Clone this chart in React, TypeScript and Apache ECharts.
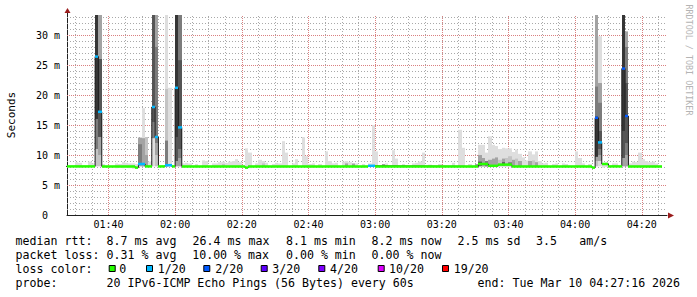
import React, { useEffect, useRef } from 'react';
import * as echarts from 'echarts';

// ---------- data ----------
const viewStart = '01:27:34';
const viewEnd = '04:27:34';
const dataEnd = '04:26';
const yMax = 100 / 3; // ms at top of plot

const xMajorTicks = ['01:40', '02:00', '02:20', '02:40', '03:00', '03:20', '03:40', '04:00', '04:20'];
const yTicks = [0, 5, 10, 15, 20, 25, 30];

// median rtt (ms), held from each start minute until the next one; loss = pings lost of 20
const medTimes = ['01:27', '01:36', '01:37', '01:38', '01:48', '01:49', '01:51', '01:53', '01:54', '01:55', '01:57', '01:59', '02:00', '02:01', '02:02', '02:21', '02:22', '02:58', '03:00', '03:31', '03:34', '03:37', '03:41', '04:05', '04:06', '04:07', '04:08', '04:10', '04:14', '04:15', '04:16'];
const medValues = [8.1, 26.4, 17.2, 8.1, 7.9, 8.5, 8.1, 18.0, 13.0, 8.1, 8.3, 8.1, 21.2, 14.6, 8.1, 7.9, 8.1, 8.2, 8.1, 8.5, 8.2, 8.4, 8.1, 7.9, 16.2, 12.1, 8.5, 8.1, 24.4, 16.5, 8.1];
const medLoss = [0, 1, 1, 0, 0, 1, 0, 1, 1, 0, 1, 0, 1, 1, 0, 0, 0, 1, 0, 0, 0, 0, 0, 0, 2, 1, 0, 0, 2, 2, 0];

// smoke bands: [minute, low ms, high ms, density level 1..6]
const smoke: [string, number, number, number][] = [
  ['01:30', 7.9, 8.8, 1], ['01:31', 7.9, 8.7, 1], ['01:34', 8.0, 8.9, 1], ['01:35', 8.0, 8.6, 1],
  ['01:36', 8.1, 33.4, 2], ['01:36', 11, 33.4, 4], ['01:36', 16, 33.4, 6],
  ['01:37', 8.1, 33.4, 2], ['01:37', 10, 33.4, 3], ['01:37', 13, 26, 5],
  ['01:38', 7.9, 8.5, 1], ['01:42', 7.8, 8.6, 1], ['01:43', 7.9, 8.5, 1], ['01:44', 7.8, 8.8, 1],
  ['01:45', 7.9, 8.7, 1], ['01:46', 7.8, 8.6, 1], ['01:47', 7.7, 8.6, 1], ['01:48', 7.7, 8.5, 1],
  ['01:49', 8.1, 12.9, 3], ['01:49', 8.6, 11.8, 4],
  ['01:50', 8.1, 17.8, 1], ['01:50', 8.1, 12.8, 3],
  ['01:51', 8.1, 13.0, 2], ['01:51', 8.1, 10.0, 3], ['01:52', 8.0, 8.9, 1],
  ['01:53', 8.1, 33.4, 1], ['01:53', 12.8, 33.4, 4], ['01:53', 15.5, 33.4, 5],
  ['01:54', 8.1, 33.4, 2], ['01:54', 10, 33.4, 3], ['01:54', 12, 28, 4],
  ['01:57', 8.1, 33.4, 1], ['01:57', 8.1, 21, 2], ['01:57', 8.1, 12.4, 4],
  ['01:58', 8.0, 21.2, 1],
  ['02:00', 8.1, 33.4, 3], ['02:00', 9, 33.4, 5], ['02:00', 13, 33.4, 6],
  ['02:01', 8.1, 33.4, 3], ['02:01', 9.5, 33.4, 4], ['02:01', 11, 25.8, 5],
  ['02:02', 7.9, 8.6, 1], ['02:03', 8.0, 8.7, 1], ['02:04', 8.0, 8.6, 1], ['02:06', 7.9, 8.5, 1],
  ['02:08', 8.0, 9.1, 1], ['02:09', 8.0, 9.0, 1], ['02:11', 8.0, 8.6, 1], ['02:12', 7.9, 8.6, 1],
  ['02:13', 8.0, 8.8, 1], ['02:14', 8.0, 8.9, 1], ['02:14', 8.1, 8.5, 2], ['02:15', 8.0, 8.7, 1],
  ['02:16', 8.0, 8.9, 1], ['02:17', 7.9, 9.0, 1], ['02:18', 8.0, 9.3, 1], ['02:19', 8.0, 8.8, 1],
  ['02:21', 7.7, 11.1, 1], ['02:22', 7.8, 10.4, 1], ['02:24', 8.0, 8.6, 1], ['02:25', 8.0, 9.2, 1],
  ['02:26', 8.0, 9.0, 1], ['02:26', 8.1, 8.6, 2], ['02:27', 8.0, 8.7, 1], ['02:29', 7.9, 8.5, 1],
  ['02:30', 8.0, 8.7, 1], ['02:31', 7.9, 8.6, 1], ['02:32', 7.9, 12.3, 1], ['02:33', 7.9, 10.4, 1],
  ['02:35', 8.0, 8.6, 1], ['02:36', 8.0, 9.3, 1], ['02:38', 8.0, 13.0, 1], ['02:39', 8.0, 9.8, 1],
  ['02:40', 7.9, 8.5, 1], ['02:41', 7.9, 8.6, 1], ['02:43', 7.9, 8.5, 1], ['02:45', 8.0, 10.6, 1],
  ['02:46', 8.0, 9.0, 1], ['02:47', 8.0, 8.6, 1], ['02:48', 8.0, 8.7, 1], ['02:50', 8.0, 8.9, 1],
  ['02:51', 8.0, 9.0, 1], ['02:51', 8.1, 8.6, 3], ['02:52', 8.0, 8.8, 1], ['02:53', 8.1, 8.6, 3],
  ['02:54', 7.9, 8.6, 1], ['02:56', 7.9, 8.5, 1], ['02:58', 8.0, 8.6, 1], ['02:59', 8.0, 15.0, 1],
  ['03:00', 8.0, 10.6, 1], ['03:02', 8.1, 8.5, 3], ['03:03', 8.0, 8.6, 1], ['03:05', 8.0, 10.8, 1],
  ['03:06', 8.0, 9.4, 1], ['03:08', 7.9, 8.5, 1], ['03:11', 8.0, 8.6, 1], ['03:12', 8.0, 8.7, 1],
  ['03:13', 8.0, 8.9, 1], ['03:14', 8.0, 10.4, 1], ['03:16', 7.9, 8.4, 1], ['03:19', 8.0, 8.5, 1],
  ['03:23', 8.0, 8.7, 1], ['03:25', 8.0, 14.2, 1], ['03:26', 8.0, 11.2, 1], ['03:28', 7.9, 8.5, 1],
  ['03:30', 8.1, 8.5, 3],
  ['03:31', 8.0, 11.7, 1], ['03:31', 8.1, 10.0, 3], ['03:31', 8.2, 8.9, 5],
  ['03:32', 8.0, 11.7, 1], ['03:32', 8.1, 9.5, 3],
  ['03:33', 8.0, 10.4, 1], ['03:33', 8.1, 9.0, 4],
  ['03:34', 8.0, 13.1, 1], ['03:34', 8.1, 9.2, 3],
  ['03:35', 8.0, 11.7, 1], ['03:35', 8.1, 9.4, 3],
  ['03:36', 8.0, 11.5, 1], ['03:36', 8.1, 9.6, 3],
  ['03:37', 8.0, 11.0, 1], ['03:37', 8.2, 9.2, 2],
  ['03:38', 8.0, 11.2, 1], ['03:38', 8.2, 9.4, 3], ['03:38', 8.3, 8.8, 5],
  ['03:39', 8.0, 11.1, 1], ['03:39', 8.2, 9.5, 2],
  ['03:40', 8.0, 11.1, 1], ['03:40', 8.2, 9.8, 2], ['03:40', 8.3, 8.8, 4],
  ['03:41', 8.0, 10.5, 1], ['03:41', 8.1, 9.2, 3],
  ['03:42', 8.0, 10.9, 1], ['03:42', 8.1, 9.4, 2],
  ['03:43', 8.0, 10.2, 1], ['03:43', 8.1, 9.0, 3],
  ['03:44', 8.0, 9.6, 1], ['03:45', 8.0, 9.1, 1],
  ['03:46', 8.0, 10.6, 1], ['03:46', 8.1, 9.0, 3],
  ['03:47', 8.0, 10.1, 1], ['03:47', 8.1, 9.1, 2],
  ['03:48', 8.0, 10.6, 1], ['03:48', 8.1, 8.8, 3],
  ['03:49', 8.0, 9.0, 1], ['03:50', 8.0, 8.6, 1], ['03:51', 8.0, 8.7, 1], ['03:53', 7.9, 8.5, 1],
  ['03:54', 8.0, 8.6, 1], ['03:56', 8.0, 8.6, 1], ['03:57', 8.0, 8.5, 1], ['04:00', 8.0, 10.6, 1],
  ['04:01', 8.0, 9.5, 1], ['04:02', 8.0, 8.6, 1], ['04:04', 7.8, 8.5, 1],
  ['04:06', 8.1, 33.4, 2], ['04:06', 9, 33.4, 3], ['04:06', 9.7, 21.4, 4], ['04:06', 9.7, 16.4, 6],
  ['04:07', 8.1, 29.8, 1], ['04:07', 9, 22, 3], ['04:07', 10, 18.7, 4], ['04:07', 11, 14, 5],
  ['04:08', 7.9, 8.7, 1], ['04:09', 8.0, 8.8, 1], ['04:11', 8.0, 8.6, 1], ['04:12', 8.0, 8.6, 1],
  ['04:14', 8.1, 33.4, 3], ['04:14', 9.5, 33.4, 5], ['04:14', 14, 33.4, 6],
  ['04:15', 8.1, 30.6, 3], ['04:15', 10, 28, 4], ['04:15', 12, 22, 5],
  ['04:16', 7.9, 8.6, 1], ['04:17', 8.0, 8.9, 1], ['04:18', 8.0, 8.8, 1], ['04:19', 8.0, 10.4, 1],
  ['04:20', 8.0, 9.3, 1], ['04:21', 8.0, 9.0, 1], ['04:22', 8.0, 8.8, 1], ['04:23', 7.9, 8.9, 1],
  ['04:24', 8.0, 8.6, 1],
];

const lossThresholds = [0, 1, 2, 3, 4, 10, 19];
const lossLabels = ['0', '1/20', '2/20', '3/20', '4/20', '10/20', '19/20'];

const rttTitle = 'median rtt:';
const rttStats = ['8.7 ms avg', '26.4 ms max', '8.1 ms min', '8.2 ms now', '2.5 ms sd', '3.5', 'am/s'];
const lossTitle = 'packet loss:';
const lossStats = ['0.31 % avg', '10.00 % max', '0.00 % min', '0.00 % now'];
const colorTitle = 'loss color:';
const probeTitle = 'probe:';
const probeText = '20 IPv6-ICMP Echo Pings (56 Bytes) every 60s';
const endText = 'end: Tue Mar 10 04:27:16 2026';
const yAxisName = 'Seconds';
const watermark = 'RRDTOOL / TOBI OETIKER';

// ---------- styles ----------
const lossColors = ['#26ff00', '#00b8ff', '#0059ff', '#5e00ff', '#7e00ff', '#dd00ff', '#ff0000'];
const smokeShades = ['#dedede', '#c4c4c4', '#a3a3a3', '#7c7c7c', '#555555', '#363636'];
const MONO = '"DejaVu Sans Mono", monospace';
const GRID = { left: 67, top: 15, width: 600, height: 200 };
const minorGrid = () => ({ color: '#a9a9a9', width: 1, type: [1, 2] });
const majorGrid = () => ({ color: '#d98080', width: 1, type: [1, 1] });

const toMin = (s: string) => {
  const [h, m, sec = '0'] = s.split(':');
  return Number(h) * 60 + Number(m) + Number(sec) / 60;
};
const pad = (n: number) => (n < 10 ? '0' : '') + n;
const fmtMin = (v: number) => {
  const h = Math.floor(v / 60 + 1e-9);
  const m = Math.round(v - h * 60);
  return pad(h) + ':' + pad(m);
};
const lossColor = (loss: number) => {
  let c = lossColors[0];
  lossThresholds.forEach((t, i) => { if (loss >= t) c = lossColors[i]; });
  return c;
};

function buildOption() {
  const xMin = toMin(viewStart);
  const xMax = toMin(viewEnd);

  // grid lines: every 5 minutes / every 1 ms; majors at the labelled ticks
  const majorX = xMajorTicks.map(toMin);
  const gridMarks: any[] = [];
  for (let t = Math.ceil(xMin / 5) * 5; t < xMax; t += 5) {
    const major = majorX.some((m) => Math.abs(m - t) < 1e-6);
    gridMarks.push([
      { coord: [t, 0], lineStyle: major ? majorGrid() : minorGrid() },
      { coord: [t, yMax] },
    ]);
  }
  for (let v = 1; v < yMax; v += 1) {
    const major = yTicks.indexOf(v) >= 0;
    gridMarks.push([
      { coord: [xMin, v], lineStyle: major ? majorGrid() : minorGrid() },
      { coord: [xMax, v] },
    ]);
  }

  const smokeData = smoke.map(([t, lo, hi, lvl]) => [toMin(t), lo, hi, lvl]);
  const n = medTimes.length;
  const medSegs = medTimes.map((t, i) => [
    toMin(t),
    i + 1 < n ? toMin(medTimes[i + 1]) : toMin(dataEnd),
    medValues[i],
    medLoss[i],
  ]);
  const medStep = medTimes.map((t, i) => [toMin(t), medValues[i]]);
  medStep.push([toMin(dataEnd), medValues[n - 1]]);

  const clip = (params: any, r: any) => echarts.graphic.clipRectByRect(r, params.coordSys);

  // legend layout
  const textEl = (text: string, x: number, y: number, extra: any = {}) => ({
    type: 'text', x, y, silent: true,
    style: { text, fill: '#000', fontFamily: MONO, fontSize: 11.6, verticalAlign: 'middle', align: 'left', ...extra },
  });
  const rttX = [106.6, 192.6, 286.0, 371.6, 457.6, 536.0, 579.3];
  const lossX = [106.6, 192.2, 286.0, 371.6];
  const sqX = [108.7, 146, 203.3, 260.7, 318.3, 377.7, 442];
  const sqLabelX = [119.2, 157.7, 215.2, 272.3, 330, 389, 453.7];
  const L1 = 241, L2 = 255, L3 = 269, L4 = 283.3;

  const graphic: any[] = [
    textEl(rttTitle, 15.6, L1),
    ...rttStats.map((s, i) => textEl(s, rttX[i], L1)),
    textEl(lossTitle, 15.6, L2),
    ...lossStats.map((s, i) => textEl(s, lossX[i], L2)),
    textEl(colorTitle, 15.6, L3),
    ...lossLabels.map((s, i) => textEl(s, sqLabelX[i], L3)),
    ...lossColors.map((c, i) => ({
      type: 'rect', silent: true,
      shape: { x: sqX[i] + 0.5, y: 265.5, width: 6, height: 6 },
      style: { fill: c, stroke: '#000', lineWidth: 1 },
    })),
    textEl(probeTitle, 15.6, L4),
    textEl(probeText, 106.6, L4),
    textEl(endText, 477.6, L4),
    {
      type: 'text', x: 11, y: 115, rotation: Math.PI / 2, silent: true,
      style: { text: yAxisName, fill: '#000', fontFamily: MONO, fontSize: 11, align: 'center', verticalAlign: 'middle' },
    },
    {
      type: 'text', x: 688.5, y: 60, rotation: -Math.PI / 2, silent: true,
      style: { text: watermark, fill: '#b4b4b4', fontFamily: MONO, fontSize: 8.4, align: 'center', verticalAlign: 'middle' },
    },
    // axis arrows
    {
      type: 'line', silent: true,
      shape: { x1: GRID.left + 0.5, y1: GRID.top, x2: GRID.left + 0.5, y2: GRID.top - 3 },
      style: { stroke: '#202020', lineWidth: 1 },
    },
    {
      type: 'polygon', silent: true,
      shape: { points: [[GRID.left - 2.5, GRID.top - 2], [GRID.left + 0.5, GRID.top - 7], [GRID.left + 3.5, GRID.top - 2]] },
      style: { fill: '#9a1c1c' },
    },
    {
      type: 'polygon', silent: true,
      shape: { points: [[GRID.left + GRID.width + 1, GRID.top + GRID.height - 2.5], [GRID.left + GRID.width + 7, GRID.top + GRID.height + 0.5], [GRID.left + GRID.width + 1, GRID.top + GRID.height + 3.5]] },
      style: { fill: '#9a1c1c' },
    },
  ];

  return {
    animation: false,
    backgroundColor: '#ffffff',
    grid: { ...GRID, containLabel: false },
    xAxis: {
      type: 'value', min: xMin, max: xMax,
      axisLine: { show: true, lineStyle: { color: '#202020', width: 1 } },
      axisTick: { show: false },
      splitLine: { show: false },
      axisLabel: {
        customValues: majorX,
        formatter: (v: number) => fmtMin(v),
        fontFamily: MONO, fontSize: 10, color: '#000', margin: 4,
      },
    },
    yAxis: {
      type: 'value', min: 0, max: yMax, interval: 5,
      axisLine: { show: true, lineStyle: { color: '#202020', width: 1 } },
      axisTick: { show: false },
      splitLine: { show: false },
      axisLabel: {
        customValues: yTicks,
        formatter: (v: number) => (v === 0 ? '{z|0}' : v + ' m'),
        fontFamily: MONO, fontSize: 10, color: '#000', margin: 7,
        rich: { z: { fontFamily: MONO, fontSize: 10, color: '#000', padding: [0, 12, 0, 0] } },
      },
    },
    graphic,
    series: [
      {
        type: 'line', name: 'grid', z: 1, silent: true,
        data: [],
        markLine: {
          silent: true, z: 1, symbol: ['none', 'none'], animation: false,
          label: { show: false },
          emphasis: { disabled: true },
          data: gridMarks,
        },
      },
      {
        type: 'custom', name: 'smoke', z: 2, silent: true,
        encode: { x: 0, y: [1, 2] },
        data: smokeData,
        renderItem: (params: any, api: any) => {
          const t = api.value(0), lo = api.value(1), hi = api.value(2), lvl = api.value(3);
          const a = api.coord([t, hi]);
          const b = api.coord([t + 1, lo]);
          const x0 = Math.round(a[0]), x1 = Math.round(b[0]);
          const shape = clip(params, { x: x0, y: a[1], width: x1 - x0, height: b[1] - a[1] });
          return shape ? { type: 'rect', shape, style: { fill: smokeShades[lvl - 1] } } : null;
        },
      },
      {
        type: 'line', name: 'median', z: 3, silent: true,
        step: 'end', showSymbol: false, symbol: 'none',
        data: medStep,
        lineStyle: { color: '#202020', width: 1 },
      },
      {
        type: 'custom', name: 'median loss', z: 4, silent: true,
        encode: { x: [0, 1], y: 2 },
        data: medSegs,
        renderItem: (params: any, api: any) => {
          const t0 = api.value(0), t1 = api.value(1), v = api.value(2), loss = api.value(3);
          const a = api.coord([t0, v]);
          const b = api.coord([t1, v]);
          const x0 = Math.round(a[0]), x1 = Math.round(b[0]);
          const shape = clip(params, { x: x0, y: a[1] - 1.25, width: x1 - x0, height: 2.5 });
          return shape ? { type: 'rect', shape, style: { fill: lossColor(loss) } } : null;
        },
      },
    ],
  };
}

export default function App() {
  const ref = useRef<HTMLDivElement>(null);
  useEffect(() => {
    if (!ref.current) return;
    const chart = echarts.init(ref.current, null, { renderer: 'svg' });
    chart.setOption(buildOption() as any);
    return () => chart.dispose();
  }, []);
  return (
    <div
      ref={ref}
      style={{ position: 'fixed', left: 0, top: 0, width: 697, height: 297, background: '#fff' }}
    />
  );
}
